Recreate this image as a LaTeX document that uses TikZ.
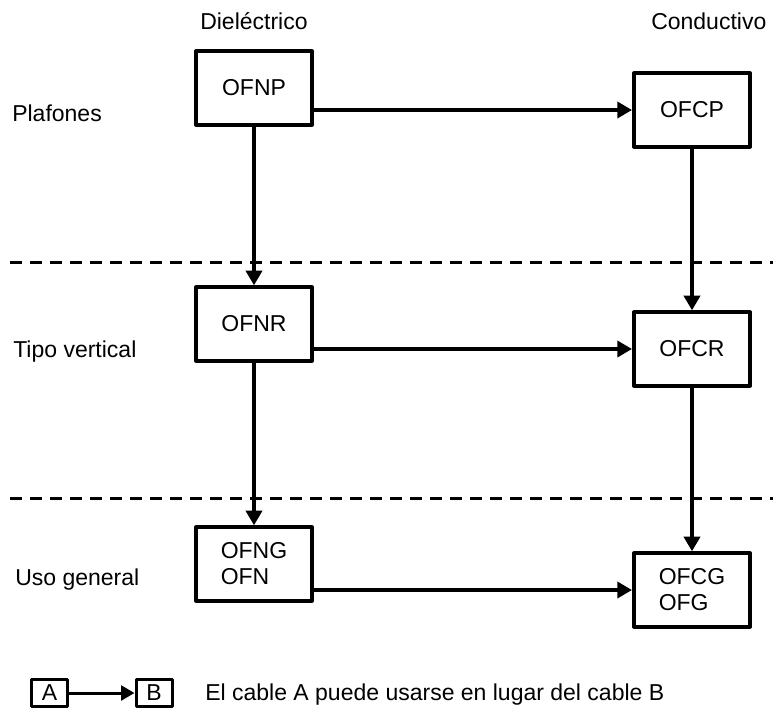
\documentclass[tikz,border=0pt]{standalone}
\usepackage{fontspec}
\setmainfont{Liberation Sans}
\usetikzlibrary{arrows.meta}
\tikzset{
	caja/.style={draw, line width=3pt, line join=round, minimum width=87pt, minimum height=55pt, align=left, inner sep=0pt},
	cajita/.style={draw, line width=2.25pt, line join=round, minimum width=27pt, minimum height=20pt, inner sep=0pt},
	flecha/.style={line width=3pt, -{Triangle[length=11pt,width=12pt]}},
	flechita/.style={line width=2.25pt, -{Triangle[length=10pt,width=11pt]}},
	divisor/.style={line width=2.25pt, dash pattern=on 9pt off 6pt},
	rotulo/.style={anchor=base west, inner sep=0pt},
}
\begin{document}
\begin{tikzpicture}[x=0.75pt, y=-0.75pt, font=\fontsize{17.25}{19.5}\selectfont]
		\useasboundingbox (0,0) rectangle (773,710);
		% columnas y filas
		\node[rotulo] (diel) at (200,30) {Dieléctrico};
		\node[rotulo] (cond) at (651,30) {Conductivo};
		\node[rotulo] (plaf) at (12,121) {Plafones};
		\node[rotulo] (vert) at (13,357) {Tipo vertical};
		\node[rotulo] (gral) at (15,585) {Uso general};
		% divisores
		\coordinate (D1a) at (10,262);
		\coordinate (D1b) at (773,262);
		\coordinate (D2a) at (10,498);
		\coordinate (D2b) at (773,498);
		\draw[divisor] (D1a) -- (D1b);
		\draw[divisor] (D2a) -- (D2b);
		% cables
		\node[caja] (OFNP) at (254,88) {OFNP};
		\node[caja] (OFNR) at (254,324) {OFNR};
		\node[caja] (OFNG) at (254,564) {OFNG\\OFN};
		\node[caja] (OFCP) at (692,110) {OFCP};
		\node[caja] (OFCR) at (692,349) {OFCR};
		\node[caja] (OFCG) at (692,590) {OFCG\\OFG};
		\draw[flecha] (OFNP.east |- OFCP) -- (OFCP.west);
		\draw[flecha] (OFNR.east |- OFCR) -- (OFCR.west);
		\draw[flecha] (OFNG.east |- OFCG) -- (OFCG.west);
		\draw[flecha] (OFNP.south) -- (OFNR.north);
		\draw[flecha] (OFNR.south) -- (OFNG.north);
		\draw[flecha] (OFCP.south) -- (OFCR.north);
		\draw[flecha] (OFCR.south) -- (OFCG.north);
		% leyenda
		\node[cajita] (A) at (49.5,693) {A};
		\node[cajita] (B) at (154,693) {B};
		\draw[flechita] (A) -- (B);
		\node[rotulo] (nota) at (205,700) {El cable A puede usarse en lugar del cable B};
\end{tikzpicture}
\end{document}
